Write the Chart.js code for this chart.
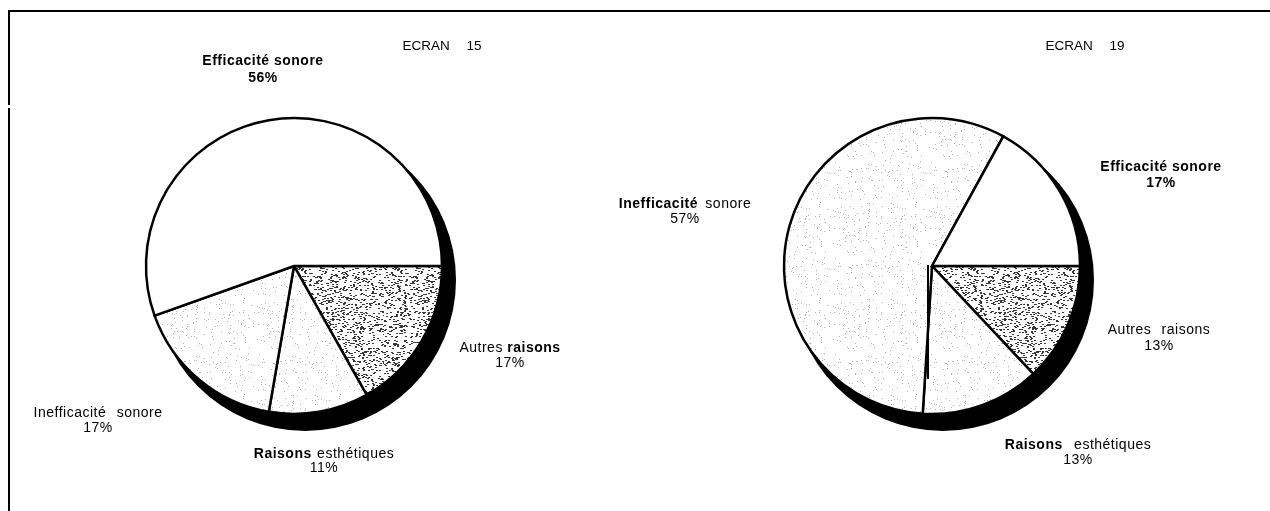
<!DOCTYPE html>
<html lang="fr">
<head>
<meta charset="utf-8">
<title>ECRAN 15 / ECRAN 19</title>
<script src="https://cdn.jsdelivr.net/npm/chart.js@4.4.1/dist/chart.umd.min.js"></script>
<style>
  html, body { margin: 0; padding: 0; background: #fff; }
  #page { position: relative; width: 1270px; height: 511px; overflow: hidden; background: #fff; }
  #page canvas { position: absolute; left: 0; top: 0; }
  .rule { position: absolute; background: #000; }
</style>
</head>
<body>
<div id="page">
  <div class="rule" style="left:8px;top:10px;width:1262px;height:2px"></div>
  <div class="rule" style="left:8px;top:10px;width:2px;height:95px"></div>
  <div class="rule" style="left:8px;top:108px;width:2px;height:403px"></div>
  <canvas id="ecran15" width="1270" height="511"></canvas>
  <canvas id="ecran19" width="1270" height="511"></canvas>
</div>
<script>
// Answer categories, clockwise from 3 o'clock
const categories = ['Autres raisons', 'Raisons esthétiques', 'Inefficacité sonore', 'Efficacité sonore'];

// Share of answers (%) for each screen
const ecran15Values = [17, 11, 17, 56];
const ecran19Values = [13, 13, 57, 17];

// Screen titles
const screenTitles = ['ECRAN 15', 'ECRAN 19'];

// ---- presentation ----
const FONT_FAMILY = '"Liberation Sans", Arial, Helvetica, sans-serif';
const LABEL_SIZE = 14;
const TITLE_SIZE = 13.5;
const PIE_RADIUS = 148;
const fillKinds = ['dense', 'light', 'light', 'plain'];

// label anchors relative to the pie centre (baseline of the first line)
const ecran15Labels = [
  { dx: 216, dy: 86, gap: 15, bold: [1], pctBold: false, extra: 0 },
  { dx: 30, dy: 192, gap: 14, bold: [0], pctBold: false, extra: 1 },
  { dx: -196, dy: 151, gap: 15, bold: [], pctBold: false, extra: 6 },
  { dx: -31, dy: -201, gap: 17, bold: [0, 1], pctBold: true, extra: 0 }
];
const ecran19Labels = [
  { dx: 227, dy: 68, gap: 16, bold: [], pctBold: false, extra: 6 },
  { dx: 146, dy: 183, gap: 15, bold: [0], pctBold: false, extra: 7 },
  { dx: -247, dy: -58, gap: 15, bold: [0], pctBold: false, extra: 3 },
  { dx: 229, dy: -95, gap: 16, bold: [0, 1], pctBold: true, extra: 0 }
];
const titleOffsets = [{ dx: 148, dy: -216 }, { dx: 153, dy: -216 }];
const pieCentres = [{ x: 294, y: 266 }, { x: 932, y: 266 }];

// screened fills, built from a fixed hash so the grain is stable
function hash2(x, y) {
  let h = (Math.imul(x, 374761393) + Math.imul(y, 668265263)) | 0;
  h = Math.imul(h ^ (h >>> 13), 1274126177);
  h ^= h >>> 16;
  return (h >>> 0) / 4294967296;
}
function makeScreen(ctx, density, ink, streak, seed) {
  const size = 96;
  const c = document.createElement('canvas');
  c.width = size; c.height = size;
  const g = c.getContext('2d');
  g.fillStyle = '#fff';
  g.fillRect(0, 0, size, size);
  g.fillStyle = ink;
  for (let y = 0; y < size; y++) {
    for (let x = 0; x < size; x++) {
      if (hash2(x + seed, y * 3 + seed) < density) g.fillRect(x, y, streak, 1);
    }
  }
  return ctx.createPattern(c, 'repeat');
}
function fillsFor(ctx) {
  const table = {
    plain: '#ffffff',
    light: makeScreen(ctx, 0.03, '#b4b4b4', 1, 11),
    dense: makeScreen(ctx, 0.115, '#383838', 2, 47)
  };
  return fillKinds.map(k => table[k]);
}

// draw a centred line made of words, some of them bold
function drawWords(ctx, words, boldIdx, x, y, extra, spacing, size) {
  const fonts = words.map((w, i) => (boldIdx.includes(i) ? 'bold ' : '') + size + 'px ' + FONT_FAMILY);
  ctx.letterSpacing = spacing + 'px';
  const widths = words.map((w, i) => { ctx.font = fonts[i]; return ctx.measureText(w).width; });
  ctx.font = size + 'px ' + FONT_FAMILY;
  const space = ctx.measureText(' ').width + extra;
  const total = widths.reduce((a, b) => a + b, 0) + space * (words.length - 1);
  let cx = x - total / 2;
  ctx.textAlign = 'left';
  ctx.textBaseline = 'alphabetic';
  words.forEach((w, i) => {
    ctx.font = fonts[i];
    ctx.fillText(w, cx, y);
    cx += widths[i] + space;
  });
  ctx.letterSpacing = '0px';
}

// dark crescent under the disc, offset towards the lower right
const dropShadow = {
  id: 'dropShadow',
  beforeDatasetsDraw(chart) {
    const arc = chart.getDatasetMeta(0).data[0];
    if (!arc) return;
    const { ctx } = chart;
    ctx.save();
    ctx.fillStyle = '#000';
    ctx.beginPath();
    ctx.arc(arc.x + 11, arc.y + 14, arc.outerRadius + 3, 0, Math.PI * 2);
    ctx.fill();
    ctx.restore();
  }
};

// titles, slice captions and the stray tick near the centre
const captions = {
  id: 'captions',
  afterDatasetsDraw(chart, args, opts) {
    const arc = chart.getDatasetMeta(0).data[0];
    if (!arc) return;
    const { ctx } = chart;
    const values = chart.data.datasets[0].data;
    ctx.save();
    ctx.fillStyle = '#000';
    if (opts.centreTick) {
      ctx.fillRect(arc.x - 5, arc.y - 1, 2, arc.outerRadius * 0.77);
    }
    const t = opts.titleOffset;
    drawWords(ctx, opts.title.split(' '), [], arc.x + t.dx, arc.y + t.dy, 13, 0, TITLE_SIZE);
    chart.data.labels.forEach((name, i) => {
      const s = opts.labels[i];
      const x = arc.x + s.dx;
      const y = arc.y + s.dy;
      drawWords(ctx, name.split(' '), s.bold, x, y, s.extra, 0.5, LABEL_SIZE);
      drawWords(ctx, [values[i] + '%'], s.pctBold ? [0] : [], x, y + s.gap, 0, 0.5, LABEL_SIZE);
    });
    ctx.restore();
  }
};

function buildPie(canvasId, values, title, labelStyles, titleOffset, centre, centreTick) {
  const canvas = document.getElementById(canvasId);
  const ctx = canvas.getContext('2d');
  const W = canvas.width, H = canvas.height;
  // place the chart area so that its centre lands on the pie centre
  const padding = {
    left: Math.max(0, 2 * centre.x - W),
    right: Math.max(0, W - 2 * centre.x),
    top: Math.max(0, 2 * centre.y - H),
    bottom: Math.max(0, H - 2 * centre.y)
  };
  return new Chart(ctx, {
    type: 'pie',
    data: {
      labels: categories,
      datasets: [{
        data: values,
        backgroundColor: fillsFor(ctx),
        borderColor: '#000',
        borderWidth: 2.5,
        borderJoinStyle: 'miter'
      }]
    },
    options: {
      responsive: false,
      maintainAspectRatio: false,
      devicePixelRatio: 1,
      animation: false,
      events: [],
      rotation: 90,
      radius: PIE_RADIUS,
      layout: { padding },
      plugins: {
        legend: { display: false },
        tooltip: { enabled: false },
        captions: { title, labels: labelStyles, titleOffset, centreTick }
      }
    },
    plugins: [dropShadow, captions]
  });
}

buildPie('ecran15', ecran15Values, screenTitles[0], ecran15Labels, titleOffsets[0], pieCentres[0], false);
buildPie('ecran19', ecran19Values, screenTitles[1], ecran19Labels, titleOffsets[1], pieCentres[1], true);
</script>
</body>
</html>
